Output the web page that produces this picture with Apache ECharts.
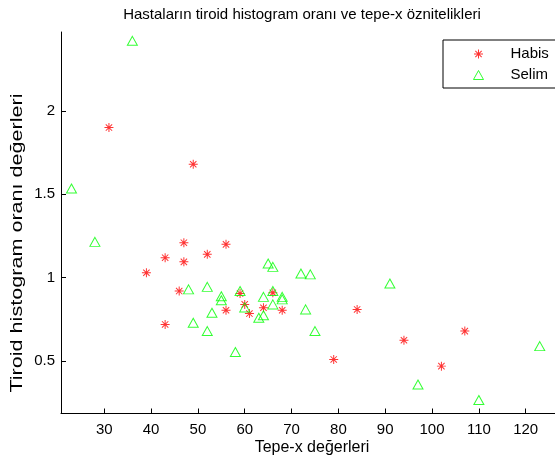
<!DOCTYPE html>
<html>
<head>
<meta charset="utf-8">
<script src="https://cdn.jsdelivr.net/npm/echarts@6/dist/echarts.min.js"></script>
<style>
html,body{margin:0;padding:0;background:#fff;}
#chart{width:555px;height:460px;}
</style>
</head>
<body>
<div id="chart"></div>
<script>
// Data
const titleText = 'Hastaların tiroid histogram oranı ve tepe-x öznitelikleri';
const xLabelText = 'Tepe-x değerleri';
const yLabelText = 'Tiroid histogram oranı değerleri';
const seriesNames = ['Habis', 'Selim'];

const habisX = [31, 49, 47, 56, 43, 52, 47, 39, 46, 56, 43, 59, 66, 60, 64, 61, 68, 84, 79, 94, 107, 102];
const habisY = [1.90, 1.68, 1.21, 1.20, 1.12, 1.14, 1.095, 1.03, 0.92, 0.805, 0.72, 0.905, 0.91, 0.84, 0.82, 0.785, 0.805, 0.81, 0.51, 0.625, 0.68, 0.47];

const selimX = [36, 23, 28, 48, 52, 55, 55, 53, 49, 52, 58, 65, 66, 72, 74, 59, 66, 64, 68, 68, 60, 66, 63, 64, 73, 75, 91, 97, 110, 123];
const selimY = [2.42, 1.535, 1.215, 0.93, 0.945, 0.889, 0.865, 0.79, 0.73, 0.68, 0.555, 1.085, 1.065, 1.025, 1.02, 0.92, 0.92, 0.885, 0.885, 0.87, 0.822, 0.84, 0.76, 0.775, 0.81, 0.68, 0.965, 0.36, 0.267, 0.59];

const xTicks = [30, 40, 50, 60, 70, 80, 90, 100, 110, 120];
const yTicks = [0.5, 1, 1.5, 2];

const xMin = 20.76, xMax = 126.26;
const yMin = 0.186, yMax = 2.473;

const FONT = '"Liberation Sans", Arial, Helvetica, sans-serif';
const starPath = 'path://M0 8.9H20V11.1H0Z M8.9 0H11.1V20H8.9Z M3.71 2.15L17.85 16.29L16.29 17.85L2.15 3.71Z M3.71 17.85L2.15 16.29L16.29 2.15L17.85 3.71Z';

const zip = (a, b) => a.map((v, i) => [v, b[i]]);

const chart = echarts.init(document.getElementById('chart'), null, {renderer: 'canvas'});
chart.setOption({
  animation: false,
  backgroundColor: '#ffffff',
  grid: {left: 61, top: 32, right: 0, bottom: 46.5, containLabel: false},
  xAxis: {
    type: 'value', min: xMin, max: xMax,
    axisLine: {show: true, onZero: false, lineStyle: {color: '#000', width: 1}},
    axisTick: {show: true, inside: true, length: 5, lineStyle: {color: '#000'}, customValues: xTicks},
    axisLabel: {show: true, margin: 9, color: '#000', fontSize: 15, fontFamily: FONT, customValues: xTicks},
    splitLine: {show: false}
  },
  yAxis: {
    type: 'value', min: yMin, max: yMax,
    axisLine: {show: true, onZero: false, lineStyle: {color: '#000', width: 1}},
    axisTick: {show: true, inside: true, length: 5, lineStyle: {color: '#000'}, customValues: yTicks},
    axisLabel: {show: true, margin: 6, color: '#000', fontSize: 15, fontFamily: FONT, customValues: yTicks},
    splitLine: {show: false}
  },
  legend: {
    left: 443, top: 40, orient: 'vertical',
    padding: [6, 30, 5, 30],
    itemWidth: 10, itemHeight: 9, itemGap: 5,
    borderColor: '#000', borderWidth: 1, backgroundColor: '#fff',
    selectedMode: false,
    itemStyle: {borderWidth: 1},
    textStyle: {fontSize: 15, fontFamily: FONT, color: '#000', lineHeight: 16, padding: [0, 0, 0, 22]},
    data: seriesNames
  },
  series: [
    {
      name: seriesNames[0], type: 'scatter', symbol: starPath, symbolSize: 9,
      itemStyle: {color: '#ff0000'},
      emphasis: {disabled: true},
      data: zip(habisX, habisY)
    },
    {
      name: seriesNames[1], type: 'scatter', symbol: 'triangle', symbolSize: [10, 9],
      itemStyle: {color: 'rgba(255,255,255,0)', borderColor: '#00ff00', borderWidth: 1},
      emphasis: {disabled: true},
      data: zip(selimX, selimY)
    }
  ],
  graphic: [
    {type: 'text', x: 302, y: 15, style: {text: titleText, fontSize: 15, fontFamily: FONT, fill: '#000', textAlign: 'center', textVerticalAlign: 'middle'}},
    {type: 'text', x: 312, y: 448, style: {text: xLabelText, fontSize: 16, fontFamily: FONT, fill: '#000', textAlign: 'center', textVerticalAlign: 'middle'}},
    {type: 'text', x: 17, y: 243, rotation: Math.PI / 2, scaleX: 1.27, style: {text: yLabelText, fontSize: 17, fontFamily: FONT, fill: '#000', textAlign: 'center', textVerticalAlign: 'middle'}}
  ]
});
</script>
</body>
</html>
